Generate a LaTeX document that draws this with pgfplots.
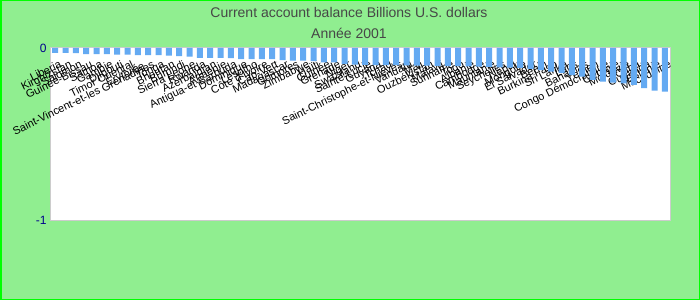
\documentclass[border=0pt]{standalone}
\usepackage{pgfplots}
\pgfplotsset{compat=1.18}
\usepackage{fontspec}
\setmainfont{Liberation Sans}
\definecolor{bg}{RGB}{144,238,144}
\definecolor{frame}{RGB}{0,255,0}
\definecolor{barc}{RGB}{100,170,242}
\definecolor{tickc}{RGB}{0,0,140}
\begin{document}
\begin{tikzpicture}
\fill[bg] (0pt,0pt) rectangle (700pt,300pt);
\draw[frame, line width=1.5pt] (0.75pt,0.75pt) rectangle (699.25pt,299.25pt);
\begin{axis}[at={(50pt,80pt)}, anchor=south west, scale only axis,
  width=620pt, height=172pt,
  xmin=-0.5, xmax=59.5, ymin=-1, ymax=0,
  ybar, bar width=6pt,
  axis background/.style={fill=white},
  axis line style={draw=black!20, line width=1pt},
  ytick={-1,0}, yticklabels={-1,0},
  yticklabel style={text=tickc, font=\fontsize{12}{14}\selectfont},
  xtick={0,...,59},
  xticklabels={Liberia,Kirghizstan,Salomon,Guinée-Bissau,Samoa,Gambie,Djibouti,Timor Oriental,Érythrée,Saint-Vincent-et-les Grenadines,Tonga,Bhoutan,Burundi,Sierra Leone,Rwanda,Azerbaïdjan,Arménie,Antigua-et-Barbuda,Dominique,Lesotho,Côte d'Ivoire,Cap-Vert,Madagascar,Comores,Zimbabwe,Haïti,Guinée,Grenade,Niger,Swaziland,Sainte-Lucie,Guyana,Tchad,Saint-Christophe-et-Niévès,Vanuatu,Mali,Ouzbékistan,Malawi,Suriname,Togo,Albanie,Cambodge,Mauritanie,Seychelles,Népal,Mongolie,El Salvador,Bénin,Burkina Faso,Sri Lanka,Laos,Bahamas,Yémen,Congo Démocratique,Géorgie,Moldavie,Cuba,Ouganda,Estonie,Macédoine},
  xticklabel pos=upper,
  xticklabel style={rotate=26, anchor=north east, font=\fontsize{11}{13}\selectfont, yshift=-12pt, xshift=-2pt, inner sep=0pt},
  major tick length=0,
]
\addplot[fill=barc, draw=none] coordinates {
(0,-0.029) (1,-0.029) (2,-0.030) (3,-0.035) (4,-0.035) (5,-0.036) (6,-0.039) (7,-0.039) (8,-0.041) (9,-0.041)
(10,-0.042) (11,-0.045) (12,-0.047) (13,-0.050) (14,-0.058) (15,-0.058) (16,-0.058) (17,-0.059) (18,-0.064) (19,-0.064)
(20,-0.064) (21,-0.065) (22,-0.070) (23,-0.074) (24,-0.074) (25,-0.077) (26,-0.083) (27,-0.084) (28,-0.093) (29,-0.097)
(30,-0.098) (31,-0.099) (32,-0.100) (33,-0.100) (34,-0.101) (35,-0.102) (36,-0.103) (37,-0.104) (38,-0.105) (39,-0.106)
(40,-0.107) (41,-0.108) (42,-0.110) (43,-0.112) (44,-0.114) (45,-0.116) (46,-0.122) (47,-0.128) (48,-0.138) (49,-0.145)
(50,-0.157) (51,-0.167) (52,-0.186) (53,-0.196) (54,-0.202) (55,-0.205) (56,-0.215) (57,-0.234) (58,-0.248) (59,-0.254)
};
\end{axis}
\node[text=black!72, font=\fontsize{14}{16}\selectfont] at (349pt,288pt) {Current account balance Billions U.S. dollars};
\node[text=black!72, font=\fontsize{14}{16}\selectfont] at (349pt,267pt) {Année 2001};
\end{tikzpicture}
\end{document}
